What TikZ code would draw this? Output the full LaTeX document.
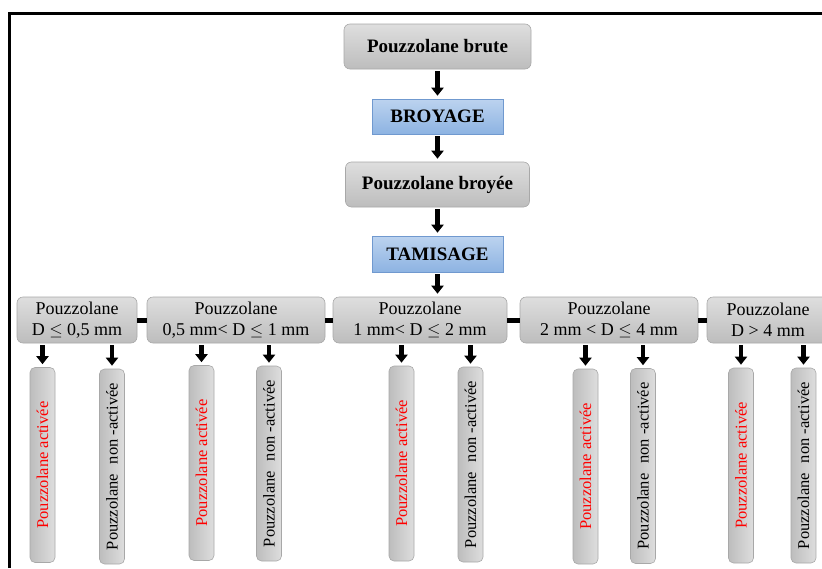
\documentclass[tikz,border=0pt]{standalone}
\usepackage{fontspec}
\setmainfont{Liberation Serif}
\usetikzlibrary{arrows.meta}
\definecolor{gtop}{HTML}{DEDEDE}
\definecolor{gbot}{HTML}{BDBDBD}
\definecolor{gborder}{HTML}{A8A8A8}
\definecolor{btop}{HTML}{BCD3EF}
\definecolor{bbot}{HTML}{8DB3E2}
\definecolor{bborder}{HTML}{7099CF}
\newcommand{\myle}{\ensuremath{\leq}}
\begin{document}
\begin{tikzpicture}[x=1pt,y=-1pt,
  graybox/.style={draw=gborder, line width=0.6pt, rounded corners=6pt, top color=gtop, bottom color=gbot, inner sep=0pt, text=black},
  bluebox/.style={draw=bborder, line width=0.6pt, top color=btop, bottom color=bbot, inner sep=0pt, text=black, font=\bfseries\fontsize{19}{22}\selectfont},
  topbox/.style={graybox, font=\bfseries\fontsize{19}{22}\selectfont},
  rowbox/.style={graybox, minimum height=46pt, align=center, font=\fontsize{18}{20.5}\selectfont},
  vbox/.style={draw=gborder, line width=0.6pt, rounded corners=5pt, left color=gbot, right color=gtop, rotate=90, minimum width=195pt, minimum height=25pt, inner sep=0pt, font=\fontsize{16.5}{18}\selectfont},
  flow/.style={line width=4.5pt, -{Triangle[width=12pt,length=8pt]}, shorten <=2pt, shorten >=3pt},
  link/.style={line width=5pt}]
\useasboundingbox (0,0) rectangle (822,568);
% frame
\draw[line width=3pt] (9.5,568) -- (9.5,13.5) -- (822,13.5);
% main chain
\node[topbox, minimum width=187pt, minimum height=45pt] (brute) at (437.5,46.5) {Pouzzolane brute};
\node[bluebox, minimum width=131pt, minimum height=35pt] (broyage) at (437.5,116.5) {BROYAGE};
\node[topbox, minimum width=184pt, minimum height=45pt] (broyee) at (437.5,184.5) {Pouzzolane broyée};
\node[bluebox, minimum width=131pt, minimum height=36pt] (tamisage) at (437.5,254) {TAMISAGE};
\draw[flow] (brute) -- (broyage);
\draw[flow] (broyage) -- (broyee);
\draw[flow] (broyee) -- (tamisage);
% row of fractions
\node[rowbox, minimum width=120pt] (r1) at (77,320) {Pouzzolane\\D \myle{} 0,5 mm};
\node[rowbox, minimum width=178pt] (r2) at (236,320) {Pouzzolane\\0,5 mm< D \myle{} 1 mm};
\node[rowbox, minimum width=174pt] (r3) at (420,320) {Pouzzolane\\1 mm< D \myle{} 2 mm};
\node[rowbox, minimum width=178pt] (r4) at (609,320) {Pouzzolane\\2 mm < D \myle{} 4 mm};
\node[rowbox, minimum width=122pt] (r5) at (768,320) {Pouzzolane\\D > 4 mm};
\draw[flow] (tamisage) -- (tamisage |- r3.north);
\draw[link] (r1) -- (r2);
\draw[link] (r2) -- (r3);
\draw[link] (r3) -- (r4);
\draw[link] (r4) -- (r5);
% vertical boxes
\node[vbox, text=red] (v1) at (42.5,465) {Pouzzolane activée};
\node[vbox] (v2) at (112,466.5) {Pouzzolane\hspace{0.6em}non -activée};
\node[vbox, text=red] (v3) at (201.5,463) {Pouzzolane activée};
\node[vbox] (v4) at (269,463.5) {Pouzzolane\hspace{0.6em}non -activée};
\node[vbox, text=red] (v5) at (401.5,463.5) {Pouzzolane activée};
\node[vbox] (v6) at (470.5,464.5) {Pouzzolane\hspace{0.6em}non -activée};
\node[vbox, text=red] (v7) at (585.5,466.5) {Pouzzolane activée};
\node[vbox] (v8) at (643,466) {Pouzzolane\hspace{0.6em}non -activée};
\node[vbox, text=red] (v9) at (741,465.5) {Pouzzolane activée};
\node[vbox] (v10) at (803.5,465.5) {Pouzzolane\hspace{0.6em}non -activée};
\foreach \v/\r in {v1/r1, v2/r1, v3/r2, v4/r2, v5/r3, v6/r3, v7/r4, v8/r4, v9/r5, v10/r5}
  \draw[flow] (\v.east |- \r.south) -- (\v.east);
\end{tikzpicture}
\end{document}
